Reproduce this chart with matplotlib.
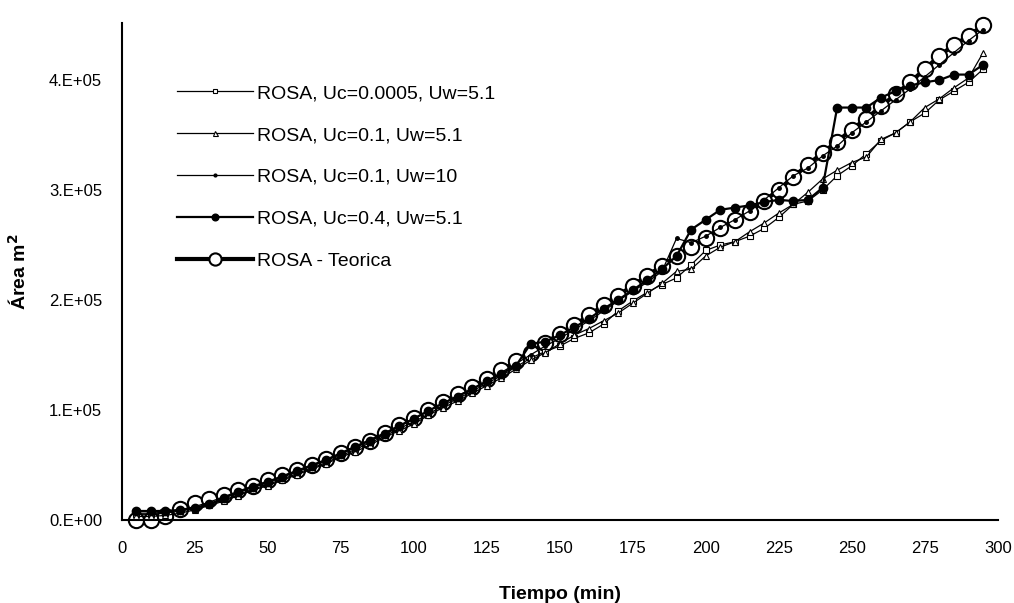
import matplotlib
matplotlib.use('Agg')
import matplotlib.pyplot as plt
from matplotlib.ticker import FixedLocator

# tiempo (min)
tiempo = [5, 10, 15, 20, 25, 30, 35, 40, 45, 50, 55, 60, 65, 70, 75, 80, 85, 90, 95, 100,
          105, 110, 115, 120, 125, 130, 135, 140, 145, 150, 155, 160, 165, 170, 175, 180, 185, 190, 195, 200,
          205, 210, 215, 220, 225, 230, 235, 240, 245, 250, 255, 260, 265, 270, 275, 280, 285, 290, 295]

# Area (m2) de cada serie
uc0005_uw51 = [5000, 5000, 6000, 8000, 10000, 14000, 18000, 23000, 28000, 32000, 37000, 42000, 47000, 52000, 58000, 64000, 70000, 76000, 83000, 89000,
               96000, 104000, 110000, 117000, 124000, 131000, 139000, 147000, 153000, 158000, 165000, 170000, 178000, 190000, 199000, 207000, 214000, 220000, 232000, 245000,
               250000, 253000, 258000, 265000, 275000, 287000, 290000, 300000, 313000, 322000, 333000, 345000, 352000, 362000, 370000, 382000, 390000, 398000, 410000]
uc01_uw51 = [3000, 3000, 4000, 6000, 9000, 13000, 17000, 22000, 27000, 31000, 36000, 41000, 46000, 51000, 57000, 62000, 68000, 75000, 81000, 87000,
             95000, 102000, 108000, 115000, 122000, 129000, 137000, 145000, 152000, 160000, 168000, 174000, 181000, 188000, 197000, 206000, 215000, 226000, 228000, 240000,
             248000, 253000, 262000, 270000, 279000, 287000, 298000, 310000, 318000, 325000, 330000, 346000, 352000, 362000, 375000, 383000, 393000, 402000, 425000]
uc01_uw10 = [6000, 6000, 7000, 9000, 12000, 16000, 21000, 26000, 31000, 35000, 40000, 45000, 50000, 55000, 61000, 67000, 73000, 79000, 86000, 92000,
             99000, 106000, 113000, 119000, 126000, 134000, 142000, 150000, 158000, 165000, 173000, 181000, 190000, 199000, 208000, 216000, 226000, 256000, 252000, 258000,
             266000, 273000, 281000, 291000, 302000, 313000, 320000, 331000, 340000, 352000, 362000, 372000, 382000, 392000, 403000, 414000, 425000, 436000, 446000]
uc04_uw51 = [8000, 8000, 8000, 9000, 11000, 14000, 20000, 25000, 30000, 34000, 39000, 44000, 49000, 54000, 60000, 66000, 72000, 78000, 85000, 92000,
             99000, 106000, 112000, 119000, 126000, 133000, 140000, 160000, 162000, 168000, 175000, 183000, 192000, 200000, 209000, 218000, 228000, 240000, 264000, 273000,
             282000, 284000, 286000, 289000, 291000, 290000, 291000, 302000, 375000, 375000, 375000, 384000, 390000, 395000, 398000, 400000, 405000, 405000, 414000]
teorica = [0, 0, 3000, 10000, 15000, 19000, 23000, 27000, 31000, 36000, 41000, 45000, 50000, 55000, 61000, 66000, 72000, 79000, 86000, 93000,
           100000, 107000, 114000, 121000, 128000, 136000, 144000, 152000, 161000, 169000, 177000, 186000, 195000, 204000, 213000, 222000, 231000, 240000, 248000, 256000,
           265000, 273000, 280000, 290000, 300000, 312000, 323000, 334000, 344000, 355000, 365000, 376000, 387000, 398000, 410000, 422000, 432000, 440000, 450000]

etiquetas = ['ROSA, Uc=0.0005, Uw=5.1', 'ROSA, Uc=0.1, Uw=5.1', 'ROSA, Uc=0.1, Uw=10',
             'ROSA, Uc=0.4, Uw=5.1', 'ROSA - Teorica']
yticks = [0, 100000, 200000, 300000, 400000]
ytick_labels = ['0.E+00', '1.E+05', '2.E+05', '3.E+05', '4.E+05']
xticks = [0, 25, 50, 75, 100, 125, 150, 175, 200, 225, 250, 275, 300]

plt.rcParams['font.family'] = ['Liberation Sans', 'DejaVu Sans']

fig = plt.figure(figsize=(10.14, 6.03), dpi=100)
ax = fig.add_axes([0.120, 0.138, 0.864, 0.824])

# curva teorica debajo, circulos grandes huecos
l5, = ax.plot(tiempo, teorica, '-', color='black', lw=3, marker='o', ms=11,
              mfc='white', mec='black', mew=1.5, zorder=2, clip_on=False)
l1, = ax.plot(tiempo, uc0005_uw51, '-', color='black', lw=0.9, marker='s', ms=4,
              mfc='white', mec='black', mew=0.8, zorder=3)
l2, = ax.plot(tiempo, uc01_uw51, '-', color='black', lw=0.9, marker='^', ms=4.5,
              mfc='white', mec='black', mew=0.8, zorder=3)
l3, = ax.plot(tiempo, uc01_uw10, '-', color='black', lw=0.9, marker='o', ms=2.5,
              mfc='black', mec='black', zorder=4)
l4, = ax.plot(tiempo, uc04_uw51, '-', color='black', lw=1.6, marker='o', ms=6,
              mfc='black', mec='black', zorder=4)

ax.set_xlim(0, 300)
ax.set_ylim(0, 452000)
ax.xaxis.set_major_locator(FixedLocator(xticks))
ax.set_yticks(yticks)
ax.set_yticklabels(ytick_labels)

for s in ['top', 'right']:
    ax.spines[s].set_visible(False)
for s in ['left', 'bottom']:
    ax.spines[s].set_linewidth(1.5)

ax.tick_params(axis='both', direction='out', length=0, labelsize=12)
ax.tick_params(axis='y', pad=14)
ax.tick_params(axis='x', pad=15)
for lab in ax.get_xticklabels() + ax.get_yticklabels():
    lab.set_family(['Liberation Sans Narrow', 'Liberation Sans', 'DejaVu Sans'])

ax.set_xlabel('Tiempo (min)', fontsize=14, fontweight='bold', labelpad=22)
ax.set_ylabel('Área m$^{\\mathbf{2}}$', fontsize=14, fontweight='bold')
ax.yaxis.set_label_coords(-0.105, 0.5)

leg = ax.legend([l1, l2, l3, l4, l5], etiquetas, loc='upper left',
                bbox_to_anchor=(0.063, 0.876), frameon=False, fontsize=14,
                handlelength=3.9, handletextpad=0.2, labelspacing=1.25,
                borderpad=0, borderaxespad=0, markerscale=0.8)

fig.savefig('out.png', dpi=100)
